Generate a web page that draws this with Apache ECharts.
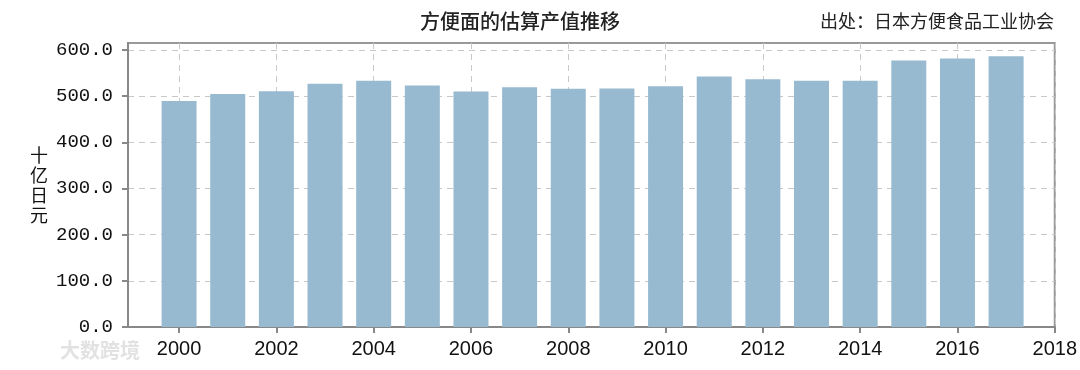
<!DOCTYPE html>
<html>
<head>
<meta charset="utf-8">
<script src="https://cdn.jsdelivr.net/npm/echarts@6/dist/echarts.min.js"></script>
<style>
html,body{margin:0;padding:0;background:#fff;}
#c{width:1080px;height:370px;}
</style>
</head>
<body>
<div id="c"></div>
<script>
const years = [2000,2001,2002,2003,2004,2005,2006,2007,2008,2009,2010,2011,2012,2013,2014,2015,2016,2017];
const values = [489.3,504.3,510.7,526.6,533.0,522.9,510.0,519.3,515.8,516.5,521.4,542.2,536.4,533.0,533.0,577.1,581.4,586.5];
const xTicks = [2000,2002,2004,2006,2008,2010,2012,2014,2016,2018];
const yTicks = [0,100,200,300,400,500,600];
const titleText = '方便面的估算产值推移';
const sourceText = '出处：日本方便食品工业协会';
const yName = '十亿日元';

const chart = echarts.init(document.getElementById('c'));
const data = years.map((y, i) => [y, values[i]]);
const cjk = '"Noto Sans CJK SC", "Noto Sans CJK JP", sans-serif';

chart.setOption({
  animation: false,
  backgroundColor: '#fff',
  grid: {
    left: 128, right: 21, top: 43, bottom: 43,
    show: true, borderColor: '#999', borderWidth: 2, backgroundColor: 'transparent'
  },
  graphic: [
    { type: 'text', x: 520, y: 21, style: { text: titleText, font: '500 20px ' + cjk, fill: '#222', align: 'center', verticalAlign: 'middle' } },
    { type: 'text', x: 1054, y: 21, style: { text: sourceText, font: '18px ' + cjk, fill: '#222', align: 'right', verticalAlign: 'middle' } },
    { type: 'text', x: 60, y: 350, style: { text: '大数跨境', font: 'bold 20px ' + cjk, fill: '#e2e2e2', align: 'left', verticalAlign: 'middle' } }
  ],
  xAxis: {
    type: 'value', min: 1998.95, max: 2018,
    axisLine: { show: true, lineStyle: { color: '#888', width: 2 } },
    axisTick: { show: true, length: 6, customValues: xTicks, lineStyle: { color: '#888', width: 2 } },
    axisLabel: { customValues: xTicks, margin: 12, fontSize: 20, color: '#111', fontFamily: '"Liberation Sans", Arial, sans-serif', formatter: v => String(v) },
    splitLine: { show: true, lineStyle: { color: '#c8c8c8', type: [6, 5], width: 1 } }
  },
  yAxis: {
    type: 'value', min: 0, max: 615,
    name: yName.split('').join('\n'), nameLocation: 'middle', nameRotate: 0, nameGap: 80,
    nameTextStyle: { fontSize: 18, lineHeight: 20, color: '#111', fontFamily: cjk },
    axisLine: { show: true, lineStyle: { color: '#888', width: 2 } },
    axisTick: { show: true, length: 6, customValues: yTicks, lineStyle: { color: '#888', width: 2 } },
    axisLabel: { customValues: yTicks, margin: 15, fontSize: 19, color: '#111', fontFamily: '"Liberation Mono", monospace', formatter: v => v.toFixed(1) },
    splitLine: { show: true, lineStyle: { color: '#c8c8c8', type: [6, 5], width: 1 } }
  },
  series: [{
    type: 'bar', data: data, barWidth: 35,
    itemStyle: { color: '#97bad0' }
  }]
});
</script>
</body>
</html>
